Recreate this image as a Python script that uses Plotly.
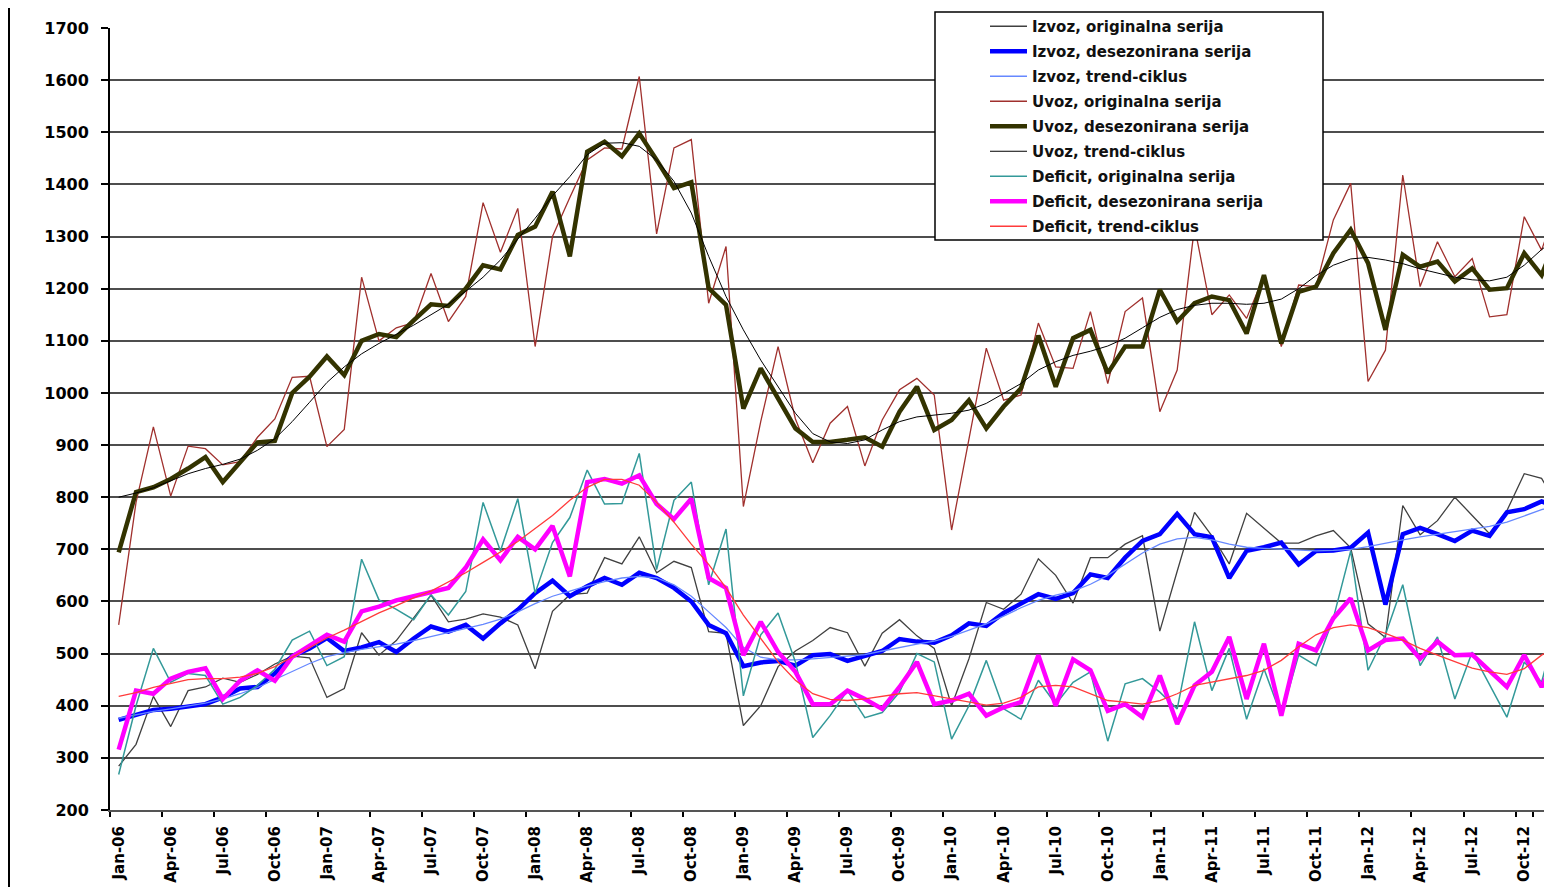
import plotly.graph_objects as go

years = ["06", "07", "08", "09", "10", "11", "12"]
month_names = ["Jan", "Feb", "Mar", "Apr", "May", "Jun", "Jul", "Aug", "Sep", "Oct", "Nov", "Dec"]
months = [f"{m}-{y}" for y in years for m in month_names]
tick_months = months[::3]

izvoz_orig = [284, 326, 418, 360, 429, 436, 453, 445, 460, 480, 495, 492,
              416, 433, 540, 497, 525, 568, 612, 561, 566, 576, 570, 555,
              471, 581, 613, 616, 684, 672, 724, 655, 677, 665, 542, 539,
              362, 400, 475, 505, 525, 550, 540, 476, 539, 565, 534, 510,
              400, 490, 598, 585, 614, 682, 650, 597, 684, 684, 710, 726,
              543, 658, 771, 726, 672, 769, 740, 712, 712, 726, 736, 703,
              557, 531, 784, 728, 755, 800, 765, 730, 774, 845, 836, 780]
izvoz_desez = [373, 382, 392, 394, 399, 403, 416, 433, 436, 462, 495, 510,
               530, 505, 512, 522, 503, 529, 552, 542, 555, 529, 558, 584,
               616, 640, 610, 629, 645, 632, 655, 645, 626, 600, 555, 539,
               476, 483, 486, 477, 497, 499, 486, 496, 505, 528, 523, 521,
               535, 558, 553, 578, 597, 614, 605, 616, 652, 645, 684, 716,
               729, 768, 729, 723, 645, 697, 704, 713, 671, 697, 698, 703,
               732, 594, 729, 741, 729, 716, 736, 726, 771, 777, 792, 780]
izvoz_trend = [376, 383, 389, 394, 399, 405, 413, 423, 435, 450, 466, 481,
               494, 502, 508, 513, 518, 525, 533, 540, 548, 556, 566, 580,
               596, 610, 620, 630, 638, 645, 648, 645, 632, 610, 580, 550,
               512, 493, 488, 488, 490, 493, 495, 498, 505, 512, 518, 524,
               533, 545, 557, 572, 588, 602, 612, 620, 633, 650, 672, 693,
               710, 720, 723, 718, 710, 704, 702, 700, 698, 697, 698, 700,
               705, 712, 718, 724, 729, 733, 738, 744, 752, 764, 776, 786]
uvoz_orig = [555, 790, 935, 802, 898, 893, 862, 868, 915, 950, 1030, 1032,
             897, 930, 1222, 1100, 1125, 1135, 1229, 1137, 1185, 1365, 1270, 1354,
             1089, 1300, 1375, 1447, 1470, 1468, 1607, 1305, 1470, 1486, 1172, 1281,
             782, 945, 1089, 950, 866, 942, 974, 860, 948, 1006, 1028, 996,
             737, 910, 1086, 986, 996, 1134, 1050, 1047, 1156, 1018, 1156, 1182,
             964, 1044, 1319, 1150, 1188, 1143, 1225, 1089, 1207, 1204, 1332, 1402,
             1022, 1082, 1418, 1204, 1290, 1223, 1258, 1146, 1150, 1338, 1274, 1370]
uvoz_desez = [694, 810, 819, 835, 855, 877, 829, 866, 905, 908, 1000, 1031,
              1070, 1034, 1100, 1113, 1107, 1139, 1170, 1167, 1200, 1245, 1237, 1303,
              1319, 1386, 1262, 1463, 1482, 1454, 1498, 1447, 1393, 1404, 1201, 1169,
              970, 1047, 990, 932, 906, 906, 910, 915, 897, 964, 1012, 929,
              948, 986, 932, 974, 1009, 1110, 1012, 1105, 1121, 1038, 1089, 1089,
              1198, 1137, 1172, 1185, 1178, 1114, 1226, 1095, 1194, 1204, 1268, 1313,
              1249, 1121, 1265, 1242, 1252, 1214, 1239, 1198, 1201, 1268, 1226, 1310]
uvoz_trend = [800, 808, 818, 832, 845, 855, 863, 873, 890, 912, 945, 982,
              1020, 1050, 1075, 1095, 1112, 1130, 1150, 1170, 1195, 1222, 1255, 1294,
              1335, 1378, 1415, 1457, 1479, 1480, 1473, 1447, 1406, 1345, 1262, 1185,
              1121, 1063, 1012, 961, 922, 906, 903, 910, 929, 945, 954, 958,
              961, 967, 980, 999, 1018, 1044, 1060, 1072, 1080, 1090, 1105, 1125,
              1145, 1160, 1168, 1172, 1172, 1170, 1172, 1180, 1200, 1225, 1245, 1257,
              1260, 1255, 1248, 1238, 1230, 1222, 1217, 1215, 1222, 1245, 1275, 1300]
deficit_orig = [268, 400, 510, 445, 462, 458, 403, 416, 439, 470, 526, 543,
                477, 494, 681, 603, 585, 565, 613, 574, 619, 790, 697, 797,
                616, 713, 761, 852, 787, 788, 884, 661, 794, 829, 632, 739,
                419, 536, 578, 484, 339, 381, 429, 377, 387, 426, 500, 484,
                336, 400, 487, 394, 374, 449, 403, 445, 465, 332, 442, 452,
                426, 394, 561, 429, 510, 374, 471, 381, 497, 477, 568, 697,
                468, 536, 632, 477, 532, 413, 503, 439, 378, 484, 445, 570]
deficit_desez = [316, 429, 423, 452, 465, 472, 413, 448, 468, 448, 494, 516,
                 536, 523, 581, 590, 602, 610, 619, 626, 665, 719, 679, 724,
                 700, 745, 648, 829, 835, 826, 842, 787, 758, 797, 645, 626,
                 497, 561, 503, 465, 403, 403, 429, 413, 394, 436, 484, 403,
                 410, 423, 381, 397, 407, 497, 400, 489, 468, 390, 403, 378,
                 458, 365, 439, 465, 532, 413, 519, 381, 519, 506, 568, 606,
                 506, 526, 529, 490, 523, 497, 498, 468, 436, 497, 436, 505]
deficit_trend = [418, 425, 435, 443, 450, 452, 452, 455, 462, 475, 493, 512,
                 530, 545, 562, 578, 592, 607, 620, 638, 655, 675, 695, 715,
                 740, 765, 794, 819, 834, 834, 823, 790, 752, 710, 671, 626,
                 574, 529, 484, 449, 423, 412, 410, 413, 418, 423, 425, 419,
                 413, 408, 401, 405, 416, 436, 439, 436, 423, 410, 407, 403,
                 410, 423, 439, 445, 452, 458, 468, 487, 513, 536, 550, 555,
                 550, 539, 526, 510, 497, 484, 472, 465, 460, 471, 497, 515]

series = [
    ("Izvoz, originalna serija", izvoz_orig, "#404040", 1.3),
    ("Izvoz, desezonirana serija", izvoz_desez, "#0000FF", 4.5),
    ("Izvoz, trend-ciklus", izvoz_trend, "#6688FF", 1.3),
    ("Uvoz, originalna serija", uvoz_orig, "#A0302D", 1.3),
    ("Uvoz, desezonirana serija", uvoz_desez, "#333300", 4.5),
    ("Uvoz, trend-ciklus", uvoz_trend, "#000000", 1.0),
    ("Deficit, originalna serija", deficit_orig, "#339999", 1.5),
    ("Deficit, desezonirana serija", deficit_desez, "#FF00FF", 4.5),
    ("Deficit, trend-ciklus", deficit_trend, "#FF3B3B", 1.3),
]

fig = go.Figure()
for k, (name, vals, color, w) in enumerate(series):
    fig.add_trace(go.Scatter(
        x=months, y=vals, mode="lines", name=name,
        legendgroup=f"g{k}",
        line=dict(color=color, width=w),
    ))

# the page body adds an 8px offset; positions below are in screen pixels
OFF = 8
W, H = 1552 - OFF, 887 - OFF
L, R, T, B = 110 - OFF, 0, 28 - OFF, 887 - 810
pw, ph = W - L - R, H - T - B

def px_x(p):
    return (p - OFF - L) / pw

def px_y(p):
    return (H - B - (p - OFF)) / ph

font_family = "DejaVu Sans"

fig.update_layout(
    width=W, height=H,
    margin=dict(l=L, r=R, t=T, b=B, pad=0),
    paper_bgcolor="white", plot_bgcolor="white",
    showlegend=True,
    legend=dict(
        x=px_x(985), y=px_y(10), xanchor="left", yanchor="top",
        bgcolor="rgba(0,0,0,0)", borderwidth=0,
        font=dict(family=font_family, size=15, color="#111", weight="bold"),
        traceorder="grouped", tracegroupgap=2.5, itemwidth=37,
    ),
    xaxis=dict(
        type="category", range=[-0.5, 82.6],
        tickmode="array", tickvals=tick_months, ticktext=tick_months,
        tickangle=-90, tickson="boundaries",
        ticks="outside", ticklen=5, tickcolor="black", tickwidth=1.5,
        showgrid=False, showline=True, linecolor="#555", linewidth=2,
        tickfont=dict(family=font_family, size=15, color="black", weight="bold"),
        ticklabelstandoff=8,
    ),
    yaxis=dict(
        range=[200, 1700], dtick=100, tick0=200,
        ticks="outside", ticklen=7, tickcolor="black", tickwidth=1.5,
        showgrid=True, gridcolor="#4d4d4d", gridwidth=2,
        showline=True, linecolor="black", linewidth=2,
        zeroline=False,
        tickfont=dict(family=font_family, size=16, color="black", weight="bold"),
        ticklabelstandoff=9,
    ),
    shapes=[
        dict(type="rect", xref="paper", yref="paper",
             x0=px_x(935), x1=px_x(1323), y0=px_y(240), y1=px_y(12),
             fillcolor="white", line=dict(color="black", width=1.5), layer="above"),
        dict(type="line", xref="paper", yref="paper",
             x0=px_x(9), x1=px_x(9), y0=px_y(887), y1=px_y(8),
             line=dict(color="black", width=2), layer="above"),
    ],
)

fig.write_html("out.html")
